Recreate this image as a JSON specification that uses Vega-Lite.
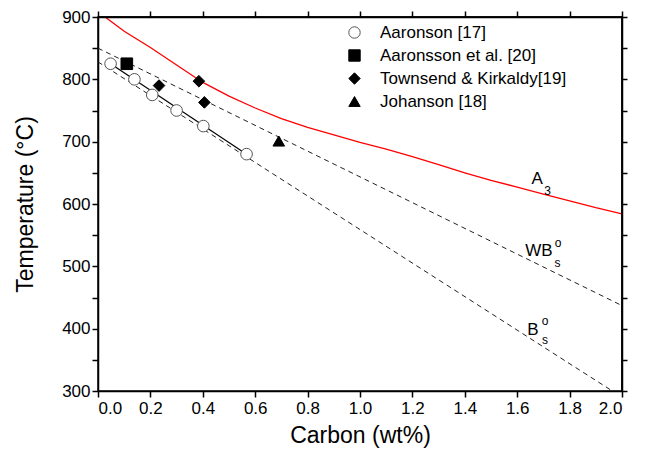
{
  "$schema": "https://vega.github.io/schema/vega-lite/v6.json",
  "width": 524,
  "height": 374,
  "autosize": {"type": "none"},
  "padding": {"left": 98, "top": 17, "right": 27, "bottom": 70},
  "background": "white",
  "config": {
    "font": "Liberation Sans",
    "view": {"stroke": "black", "strokeWidth": 1.5},
    "axis": {
      "grid": false,
      "domainColor": "black",
      "domainWidth": 1.5,
      "tickColor": "black",
      "tickWidth": 1.5,
      "tickSize": 6,
      "labelColor": "black",
      "labelFontSize": 17,
      "labelFont": "Liberation Sans",
      "titleFont": "Liberation Sans",
      "titleFontSize": 23,
      "titleFontWeight": "normal",
      "titleColor": "black"
    },
    "legend": {
      "orient": "none",
      "legendX": 248,
      "legendY": 7,
      "padding": 0,
      "labelFontSize": 17,
      "labelFont": "Liberation Sans",
      "labelColor": "black",
      "symbolSize": 130,
      "symbolStrokeWidth": 1,
      "rowPadding": 5,
      "labelOffset": 17,
      "labelLimit": 300
    }
  },
  "resolve": {"scale": {"x": "independent", "y": "independent"}},
  "datasets": {
    "pts": [
      {"c": 0.048, "t": 825, "src": "Aaronson [17]"},
      {"c": 0.139, "t": 800, "src": "Aaronson [17]"},
      {"c": 0.207, "t": 775, "src": "Aaronson [17]"},
      {"c": 0.300, "t": 750, "src": "Aaronson [17]"},
      {"c": 0.402, "t": 725, "src": "Aaronson [17]"},
      {"c": 0.567, "t": 680, "src": "Aaronson [17]"},
      {"c": 0.110, "t": 825, "src": "Aaronsson et al. [20]"},
      {"c": 0.233, "t": 790, "src": "Townsend & Kirkaldy[19]"},
      {"c": 0.385, "t": 797, "src": "Townsend & Kirkaldy[19]"},
      {"c": 0.406, "t": 763, "src": "Townsend & Kirkaldy[19]"},
      {"c": 0.690, "t": 701, "src": "Johanson [18]"}
    ],
    "a3": [
      {"c": 0.027, "t": 900},
      {"c": 0.1, "t": 877},
      {"c": 0.2, "t": 851},
      {"c": 0.3, "t": 823},
      {"c": 0.4, "t": 795},
      {"c": 0.5, "t": 773},
      {"c": 0.6, "t": 754},
      {"c": 0.7, "t": 737},
      {"c": 0.8, "t": 723},
      {"c": 0.9, "t": 711},
      {"c": 1.0, "t": 699},
      {"c": 1.1, "t": 688},
      {"c": 1.2, "t": 676},
      {"c": 1.3, "t": 663},
      {"c": 1.4, "t": 650},
      {"c": 1.5, "t": 638},
      {"c": 1.6, "t": 627},
      {"c": 1.7, "t": 616},
      {"c": 1.8, "t": 605},
      {"c": 1.9, "t": 594},
      {"c": 2.0, "t": 584}
    ],
    "wbs": [
      {"c": 0.0, "t": 850},
      {"c": 2.0, "t": 437}
    ],
    "bs": [
      {"c": 0.0, "t": 828},
      {"c": 1.963, "t": 300}
    ],
    "fit": [
      {"c": 0.048, "t": 825},
      {"c": 0.567, "t": 680}
    ],
    "frame": [
      {"c": 0.0, "c2": 2.0, "t": 900, "t2": 900},
      {"c": 2.0, "c2": 2.0, "t": 300, "t2": 900}
    ],
    "big": [
      {"c": 1.676, "t": 640, "txt": "A"},
      {"c": 1.683, "t": 525, "txt": "WB"},
      {"c": 1.660, "t": 398, "txt": "B"}
    ],
    "small": [
      {"c": 1.716, "t": 621, "txt": "3"},
      {"c": 1.756, "t": 538, "txt": "o"},
      {"c": 1.754, "t": 506, "txt": "s"},
      {"c": 1.706, "t": 412, "txt": "o"},
      {"c": 1.706, "t": 382, "txt": "s"}
    ]
  },
  "layer": [
    {
      "data": {"name": "a3"},
      "mark": {"type": "line", "color": "#ff0000", "strokeWidth": 1.3, "clip": true},
      "encoding": {
        "x": {
          "field": "c", "type": "quantitative",
          "scale": {"domain": [0, 2], "nice": false, "zero": false},
          "axis": {
            "orient": "bottom",
            "title": "Carbon (wt%)",
            "values": [0, 0.2, 0.4, 0.6, 0.8, 1.0, 1.2, 1.4, 1.6, 1.8, 2.0],
            "format": ".1f",
            "labelPadding": 3,
            "titlePadding": 8
          }
        },
        "y": {
          "field": "t", "type": "quantitative",
          "scale": {"domain": [300, 900], "nice": false, "zero": false},
          "axis": {
            "orient": "left",
            "title": "Temperature (°C)",
            "values": [300, 350, 400, 450, 500, 550, 600, 650, 700, 750, 800, 850, 900],
            "labelExpr": "datum.value % 100 === 0 ? datum.label : ''",
            "labelPadding": 2,
            "titlePadding": 24
          }
        }
      }
    },
    {
      "data": {"name": "wbs"},
      "mark": {"type": "line", "color": "#222222", "strokeWidth": 1, "strokeDash": [5, 4]},
      "encoding": {
        "x": {"field": "c", "type": "quantitative",
          "scale": {"domain": [0, 2], "nice": false, "zero": false},
          "axis": {"orient": "top", "title": null, "labels": false, "zindex": 1,
            "domainColor": "black", "tickColor": "black",
            "values": [0, 0.2, 0.4, 0.6, 0.8, 1.0, 1.2, 1.4, 1.6, 1.8, 2.0]}},
        "y": {"field": "t", "type": "quantitative",
          "scale": {"domain": [300, 900], "nice": false, "zero": false},
          "axis": {"orient": "right", "title": null, "labels": false, "zindex": 1, "tickSize": 5,
            "domainColor": "black", "tickColor": "black",
            "values": [300, 350, 400, 450, 500, 550, 600, 650, 700, 750, 800, 850, 900]}}
      }
    },
    {
      "data": {"name": "frame"},
      "mark": {"type": "rule", "color": "black", "strokeWidth": 1.5},
      "encoding": {
        "x": {"field": "c", "type": "quantitative", "axis": null,
          "scale": {"domain": [0, 2], "nice": false, "zero": false}},
        "x2": {"field": "c2"},
        "y": {"field": "t", "type": "quantitative", "axis": null,
          "scale": {"domain": [300, 900], "nice": false, "zero": false}},
        "y2": {"field": "t2"}
      }
    },
    {
      "data": {"name": "bs"},
      "mark": {"type": "line", "color": "#222222", "strokeWidth": 1, "strokeDash": [5, 4]},
      "encoding": {
        "x": {"field": "c", "type": "quantitative", "axis": null,
          "scale": {"domain": [0, 2], "nice": false, "zero": false}},
        "y": {"field": "t", "type": "quantitative", "axis": null,
          "scale": {"domain": [300, 900], "nice": false, "zero": false}}
      }
    },
    {
      "data": {"name": "fit"},
      "mark": {"type": "line", "color": "black", "strokeWidth": 1.2},
      "encoding": {
        "x": {"field": "c", "type": "quantitative", "axis": null,
          "scale": {"domain": [0, 2], "nice": false, "zero": false}},
        "y": {"field": "t", "type": "quantitative", "axis": null,
          "scale": {"domain": [300, 900], "nice": false, "zero": false}}
      }
    },
    {
      "data": {"name": "pts"},
      "mark": {"type": "point", "filled": false, "strokeWidth": 1, "opacity": 1, "size": 135},
      "encoding": {
        "x": {"field": "c", "type": "quantitative", "axis": null,
          "scale": {"domain": [0, 2], "nice": false, "zero": false}},
        "y": {"field": "t", "type": "quantitative", "axis": null,
          "scale": {"domain": [300, 900], "nice": false, "zero": false}},
        "shape": {
          "field": "src", "type": "nominal",
          "scale": {
            "domain": ["Aaronson [17]", "Aaronsson et al. [20]", "Townsend & Kirkaldy[19]", "Johanson [18]"],
            "range": ["circle", "square", "diamond", "triangle-up"]
          },
          "legend": {"title": null}
        },
        "fill": {
          "field": "src", "type": "nominal",
          "scale": {
            "domain": ["Aaronson [17]", "Aaronsson et al. [20]", "Townsend & Kirkaldy[19]", "Johanson [18]"],
            "range": ["white", "black", "black", "black"]
          },
          "legend": {"title": null}
        },
        "stroke": {
          "field": "src", "type": "nominal",
          "scale": {
            "domain": ["Aaronson [17]", "Aaronsson et al. [20]", "Townsend & Kirkaldy[19]", "Johanson [18]"],
            "range": ["#555555", "black", "black", "black"]
          },
          "legend": {"title": null}
        }
      }
    },
    {
      "data": {"name": "big"},
      "mark": {"type": "text", "fontSize": 17, "font": "Liberation Sans", "color": "black", "align": "center", "baseline": "middle"},
      "encoding": {
        "x": {"field": "c", "type": "quantitative", "axis": null,
          "scale": {"domain": [0, 2], "nice": false, "zero": false}},
        "y": {"field": "t", "type": "quantitative", "axis": null,
          "scale": {"domain": [300, 900], "nice": false, "zero": false}},
        "text": {"field": "txt"}
      }
    },
    {
      "data": {"name": "small"},
      "mark": {"type": "text", "fontSize": 12, "font": "Liberation Sans", "color": "black", "align": "center", "baseline": "middle"},
      "encoding": {
        "x": {"field": "c", "type": "quantitative", "axis": null,
          "scale": {"domain": [0, 2], "nice": false, "zero": false}},
        "y": {"field": "t", "type": "quantitative", "axis": null,
          "scale": {"domain": [300, 900], "nice": false, "zero": false}},
        "text": {"field": "txt"}
      }
    }
  ]
}
